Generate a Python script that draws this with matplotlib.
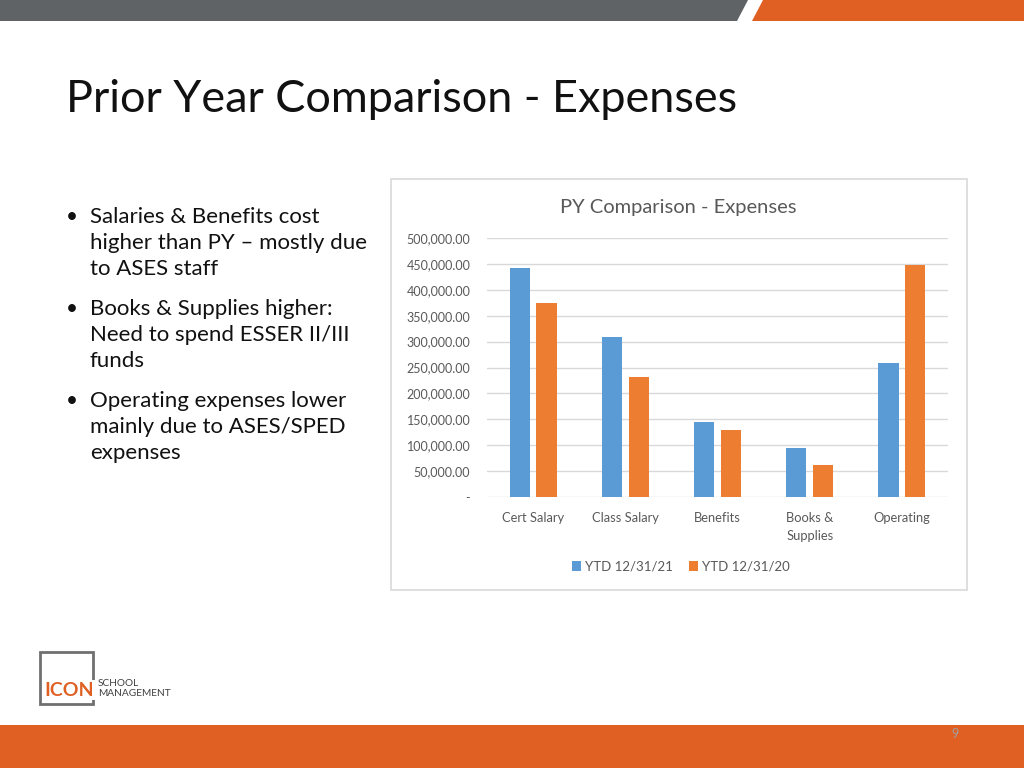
import numpy as np
import matplotlib.pyplot as plt
from matplotlib.patches import Polygon, Rectangle

# chart data
categories = ['Cert Salary', 'Class Salary', 'Benefits', 'Books &\nSupplies', 'Operating']
ytd_21 = [442000, 308000, 144000, 94000, 258000]
ytd_20 = [375000, 232000, 129000, 62000, 448000]
series_names = ['YTD 12/31/21', 'YTD 12/31/20']
yticks = [0, 50000, 100000, 150000, 200000, 250000, 300000, 350000, 400000, 450000, 500000]

bullets = [
    ['Salaries & Benefits cost', 'higher than PY \u2013 mostly due', 'to ASES staff'],
    ['Books & Supplies higher:', 'Need to spend ESSER II/III', 'funds'],
    ['Operating expenses lower', 'mainly due to ASES/SPED', 'expenses'],
]

blue = '#5b9bd5'
orange = '#ed7d31'
grey_txt = '#595959'
font = 'Lato'

fig = plt.figure(figsize=(10.24, 7.68), dpi=100)

# slide background layer in pixel coords
bg = fig.add_axes([0, 0, 1, 1])
bg.set_xlim(0, 1024)
bg.set_ylim(768, 0)
bg.axis('off')

# top bar
bg.add_patch(Polygon([(0, 0), (748, 0), (737, 21), (0, 21)], closed=True, color='#5f6366', lw=0))
bg.add_patch(Polygon([(763, 0), (1024, 0), (1024, 21), (752, 21)], closed=True, color='#e06024', lw=0))
# bottom bar
bg.add_patch(Rectangle((0, 725), 1024, 43, color='#e06024', lw=0))
bg.text(955, 734, '9', color='#a0a0a0', fontsize=9, ha='center', va='center', family=font)

# title
bg.text(66, 100, 'Prior Year Comparison - Expenses', fontsize=32.4, family=font,
        color='#111111', va='center', ha='left')

# bullets
y = 217
for group in bullets:
    bg.text(66, y, '\u2022', fontsize=15, family=font, va='center', ha='left', color='#111111')
    for line in group:
        bg.text(90, y, line, fontsize=16, family=font, va='center', ha='left', color='#111111')
        y += 26
    y += 14

# logo
bg.add_patch(Rectangle((40, 652), 53, 52, fill=False, edgecolor='#707070', lw=2))
bg.add_patch(Rectangle((43, 680), 52, 20, color='white', lw=0))
bg.text(44, 690, 'ICON', color='#e06024', fontsize=14, fontweight='bold', family=font,
        va='center', ha='left')
bg.text(98, 684, 'SCHOOL', color='#404040', fontsize=7.3, family=font, va='center')
bg.text(98, 694, 'MANAGEMENT', color='#404040', fontsize=7.3, family=font, va='center')

# chart frame
bg.add_patch(Rectangle((391, 179), 576, 411, fill=True, facecolor='white',
                       edgecolor='#d9d9d9', lw=1.2))
bg.text(678, 207, 'PY Comparison - Expenses', fontsize=14.5, color=grey_txt, family=font,
        ha='center', va='center')

# chart
ax = fig.add_axes([487 / 1024, (768 - 497) / 768, 461 / 1024, 259 / 768])
x = np.arange(len(categories))
w = 0.22
ax.bar(x - 0.145, ytd_21, w, color=blue, label=series_names[0], zorder=3)
ax.bar(x + 0.145, ytd_20, w, color=orange, label=series_names[1], zorder=3)
ax.set_xlim(-0.5, len(categories) - 0.5)
ax.set_ylim(0, 500000)
ax.set_yticks(yticks)
ax.set_yticklabels(['-'] + ['{:,.2f}'.format(v) for v in yticks[1:]])
ax.set_xticks(x)
ax.set_xticklabels(categories, linespacing=1.6)
ax.grid(axis='y', color='#d9d9d9', lw=1, zorder=0)
for s in ax.spines.values():
    s.set_visible(False)
ax.tick_params(length=0, labelsize=9, colors=grey_txt, pad=12)
ax.tick_params(axis='x', pad=11, labelsize=9.3)
for t in ax.get_xticklabels() + ax.get_yticklabels():
    t.set_family(font)
ax.legend(loc='upper center', bbox_to_anchor=(0.42, -0.2), ncol=2, frameon=False,
          prop={'family': font, 'size': 9.5}, labelcolor=grey_txt,
          handlelength=0.7, handleheight=0.7, handletextpad=0.3, columnspacing=1.2)

fig.savefig('out.png', dpi=100)
